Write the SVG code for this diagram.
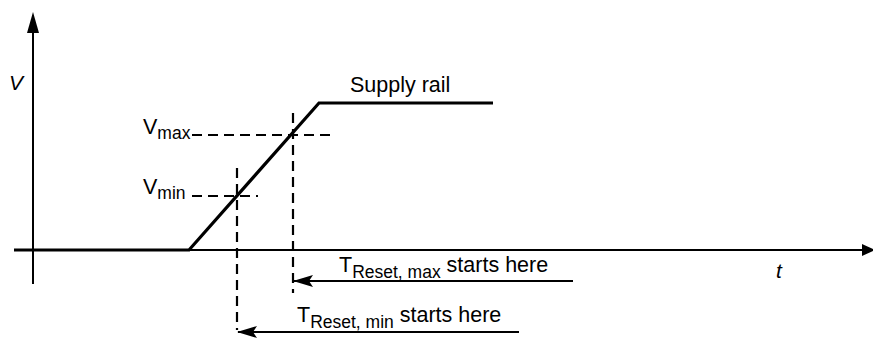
<svg xmlns="http://www.w3.org/2000/svg" width="873" height="339" viewBox="0 0 873 339">
<style>
text{font-family:"Liberation Sans",Arial,sans-serif;fill:#000}
.lbl{font-size:21.5px}
.sub{font-size:17.5px}
.it{font-style:italic;font-size:21px}
.axis{stroke:#000;stroke-width:2;fill:none}
.sig{stroke:#000;stroke-width:3.2;fill:none}
.dash{stroke:#000;stroke-width:2.2;fill:none;stroke-dasharray:10,6}
.arr{stroke:#000;stroke-width:2;fill:none}
</style>
<defs>
<marker id="ah" markerWidth="20" markerHeight="12" refX="19" refY="6" orient="auto" markerUnits="userSpaceOnUse">
<path d="M20,6 L0,0 L4,6 L0,12 Z" fill="#000"/>
</marker>
</defs>
<g id="axes">
<line class="axis" x1="33" y1="30" x2="33" y2="284"/>
<path d="M33,12 L39,33 L27,33 Z" fill="#000"/>
<line class="axis" x1="14" y1="250" x2="862" y2="250"/>
<path d="M875,250 L862,256 L862,244 Z" fill="#000"/>
<text class="it" x="9" y="90">V</text>
<text class="it" x="776" y="278">t</text>
</g>
<g id="signal">
<polyline class="sig" points="14,250 189,250 319,103 493,103"/>
<text class="lbl" x="350" y="92">Supply rail</text>
</g>
<g id="vmax">
<line class="dash" x1="192" y1="135" x2="330" y2="135"/>
<text class="lbl" x="143" y="134">V<tspan class="sub" dy="5">max</tspan></text>
</g>
<g id="vmin">
<line class="dash" x1="192" y1="196" x2="258" y2="196"/>
<text class="lbl" x="143" y="194">V<tspan class="sub" dy="5">min</tspan></text>
</g>
<g id="connectors">
<line class="dash" x1="293" y1="113" x2="293" y2="293"/>
<line class="dash" x1="237" y1="168" x2="237" y2="330"/>
<line class="arr" x1="573" y1="281" x2="294" y2="281" marker-end="url(#ah)"/>
<line class="arr" x1="519" y1="332" x2="238" y2="332" marker-end="url(#ah)"/>
</g>
<g id="treset-max">
<text class="lbl" x="339" y="272">T<tspan class="sub" dy="6">Reset, max</tspan><tspan dy="-6"> starts here</tspan></text>
</g>
<g id="treset-min">
<text class="lbl" x="297" y="322">T<tspan class="sub" dy="6">Reset, min</tspan><tspan dy="-6"> starts here</tspan></text>
</g>
</svg>
